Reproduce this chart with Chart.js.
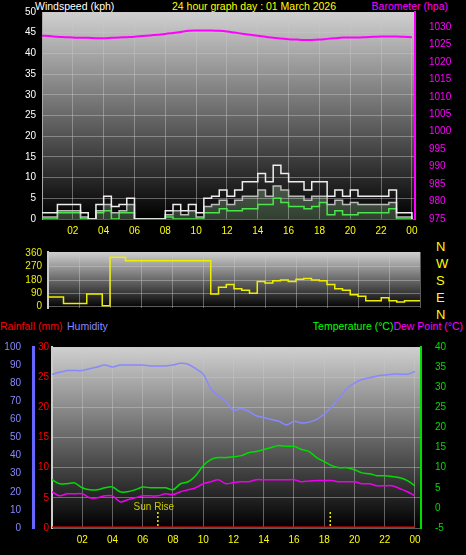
<!DOCTYPE html>
<html><head><meta charset="utf-8">
<script src="https://cdn.jsdelivr.net/npm/chart.js@4"></script>
<style>
body{margin:0;background:#000;width:466px;height:555px;overflow:hidden;position:relative;font-family:"Liberation Sans",Arial,sans-serif}
canvas{position:absolute;left:0}
.t{position:absolute;font-size:10.5px;white-space:nowrap;line-height:12px}
</style></head><body>
<div class="t" style="left:35px;top:0;color:#fff">Windspeed (kph)</div>
<div class="t" style="left:172px;top:0;color:#ff0">24 hour graph day : 01 March 2026</div>
<div class="t" style="right:18px;top:0;color:#f0f">Barometer (hpa)</div>
<div class="t" style="left:436px;top:238px;color:#ff0;font-size:13px;line-height:17px">N<br>W<br>S<br>E<br>N</div>
<div class="t" style="left:0;top:320px;color:#f00">Rainfall (mm)</div>
<div class="t" style="left:67px;top:320px;color:#88f">Humidity</div>
<div class="t" style="right:3px;top:320px"><span style="color:#0f0">Temperature (°C)</span><span style="color:#f0f">Dew Point (°C)</span></div>
<canvas id="c1" style="top:0" width="466" height="240"></canvas>
<canvas id="c2" style="top:240px" width="466" height="80"></canvas>
<canvas id="c3" style="top:335px" width="466" height="220"></canvas>
<script>
const hours=[0,0.5,1,1.5,2,2.5,3,3.5,4,4.5,5,5.5,6,6.5,7,7.5,8,8.5,9,9.5,10,10.5,11,11.5,12,12.5,13,13.5,14,14.5,15,15.5,16,16.5,17,17.5,18,18.5,19,19.5,20,20.5,21,21.5,22,22.5,23,23.5,24];
const hourLabels=['02','04','06','08','10','12','14','16','18','20','22','00'];
const barometer=[1027.5,1027.4,1027.2,1027.1,1027,1026.9,1026.9,1026.8,1026.8,1026.9,1027,1027.1,1027.2,1027.4,1027.6,1027.8,1028,1028.3,1028.6,1028.9,1029,1029,1029,1028.9,1028.7,1028.4,1028.1,1027.8,1027.5,1027.2,1026.9,1026.7,1026.5,1026.4,1026.3,1026.3,1026.4,1026.6,1026.8,1027,1027,1027,1027.1,1027.2,1027.3,1027.3,1027.3,1027.2,1027.1];
const windGust=[1.5,1.5,3.5,3.5,3.5,1.5,0,3.5,5.5,3,3.5,5,0,0,0,0,2,3.5,2,3.5,1.5,5,5.5,7,5.5,7,9,9,11,9,13,11,9,9,7,9,9,5.5,7,5.5,7,5.5,5.5,5.5,5.5,7,1.5,1.5,0];
const windSpeed=[0.5,0.5,2,2,2,0.5,0,2,3.5,1.5,2,3.5,0,0,0,0,1,2,1,2,0.5,3,3.5,4.5,3.5,4.5,5.5,5.5,7,5.5,8,7,5.5,5.5,4.5,5.5,5.5,3.5,4.5,3.5,4,3.5,3.5,3.5,3.5,4,0.5,0.5,0];
const windAvg=[0,0,1.5,1.5,1.5,0,0,1.5,2,0,1.5,1.5,0,0,0,0,0.5,0,0,0,0,1.5,1.5,2.5,2,2,2.5,2.5,3.5,3.5,5,4,3,3,2.5,3,4,1,2,1,1,1.5,1.5,1.5,1.5,2.5,0,0,0];
const baroTicks=[975,980,985,990,995,1000,1005,1010,1015,1020,1025,1030];
const dirTicks=[0,90,180,270,360];
const windDir=[65,65,20,20,20,85,85,5,335,335,310,310,310,310,310,310,310,310,310,310,310,85,130,150,120,110,90,170,160,175,180,170,185,190,180,175,150,120,110,80,70,40,40,60,40,30,40,40,40];
const temperature=[7,6,6,6.2,5,4.5,4.5,5,5.2,4,4,4.5,5.2,5,5,5,4.5,6,6.5,8,10.5,12,12.5,12.5,12.7,13,13.7,14,14.5,15,15.5,15.3,15.3,14.5,14,12.5,11.5,10.5,10,10,9.5,8.7,8.5,8,8,7.8,7.5,6.8,5.5];
const dewPoint=[4,3,3.5,3.5,3.5,2.5,2.5,3,3,1.5,2,2.5,3,3,3,3.5,3.3,4,4.5,5,6,6.5,7,6,6.3,6.5,6.5,7,7,7,7,7,7,6.5,6.7,6.8,6.8,6.8,6.5,6.5,6.5,6,6,5.5,5.5,5.5,4.8,4,3];
const humidity=[85,86,87,87,87,88,89,90,89,90,90,90,90,89.5,89.5,89.5,90,91,90.5,88,85,77,73,70,65,66,64.5,62,61,60,59,57,59,58,58.5,60,63,67,72,77,80,82,83,84,84.5,85,85,85,86.5];
const rainfall=hours.map(()=>0);
const sunEvents=[{t:7.0,label:'Sun Rise'},{t:18.4,label:''}];

const pts=a=>a.map((v,i)=>({x:hours[i],y:v}));
const F={family:'Liberation Sans',size:10};
const bgPlugin={id:'bg',beforeDraw(c){const a=c.chartArea,x=c.ctx;const g=x.createLinearGradient(0,a.top,0,a.bottom);g.addColorStop(0,'#d0d0d0');g.addColorStop(1,'#000');x.save();x.fillStyle=g;x.fillRect(a.left,a.top,a.right-a.left,a.bottom-a.top);x.restore();}};
const grid={color:'rgba(200,200,200,0.45)',borderDash:[2,2],drawTicks:false};
const fixW=w=>s=>{s.width=w};
const fixH=h=>s=>{s.height=h};
function xAxis(display){return {type:'linear',min:0,max:24.2,display:display,grid:grid,border:{display:false},
 afterBuildTicks:s=>{s.ticks=hourLabels.map((l,i)=>({value:(i+1)*2}))},
 ticks:{color:'#ff0',font:F,padding:6,callback:(v)=>hourLabels[v/2-1]},afterFit:fixH(21)};}

new Chart(document.getElementById('c1'),{type:'line',plugins:[bgPlugin],
 data:{datasets:[
  {data:pts(barometer),yAxisID:'yb',borderColor:'#f0f',borderWidth:2,pointRadius:0,tension:0.4},
  {data:pts(windGust),yAxisID:'y',borderColor:'#eee',borderWidth:1.5,pointRadius:0,stepped:true},
  {data:pts(windSpeed),yAxisID:'y',borderColor:'#bbb',borderWidth:1.5,pointRadius:0,stepped:true,backgroundColor:'rgba(200,255,200,0.25)',fill:'origin'},
  {data:pts(windAvg),yAxisID:'y',borderColor:'#2d2',borderWidth:1.5,pointRadius:0,stepped:true}]},
 options:{animation:false,responsive:false,layout:{padding:{top:12}},plugins:{legend:{display:false},tooltip:{enabled:false}},
  scales:{x:xAxis(true),
   y:{position:'left',min:0,max:50,ticks:{stepSize:5,color:'#fff',font:F,padding:6},grid:grid,border:{color:'#aaa'},afterFit:fixW(42)},
   yb:{position:'right',min:975,max:1034.3,afterBuildTicks:s=>{s.ticks=baroTicks.map(v=>({value:v}))},ticks:{color:'#f0f',font:F,padding:6,callback:v=>String(v)},grid:{display:false},border:{color:'#f0f',width:2},afterFit:fixW(51)}}}});

new Chart(document.getElementById('c2'),{type:'line',plugins:[bgPlugin],
 data:{datasets:[{data:pts(windDir),borderColor:'#ee0',borderWidth:1.5,pointRadius:0,stepped:true}]},
 options:{animation:false,responsive:false,layout:{padding:{top:4,bottom:7}},plugins:{legend:{display:false},tooltip:{enabled:false}},
  scales:{x:{type:'linear',min:0,max:24,display:true,grid:grid,border:{display:false},afterBuildTicks:s=>{s.ticks=hourLabels.map((l,i)=>({value:(i+1)*2}))},ticks:{display:false},afterFit:fixH(0)},
   y:{min:-10,max:370,afterBuildTicks:s=>{s.ticks=dirTicks.map(v=>({value:v}))},ticks:{color:'#ee0',font:F,padding:6},grid:grid,border:{color:'#ccc',width:2},afterFit:fixW(48)},
   yr:{position:'right',display:true,ticks:{display:false},grid:{display:false},border:{display:false},afterFit:fixW(46)}}}});

const sunPlugin={id:'sun',afterDatasetsDraw(c){const x=c.ctx,sx=c.scales.x,sy=c.scales.yr;
 sunEvents.forEach(e=>{const px=sx.getPixelForValue(e.t);const top=sy.getPixelForValue(0)-16;x.save();x.strokeStyle='#ee0';x.setLineDash([2,2]);x.lineWidth=1.5;x.beginPath();x.moveTo(px,top);x.lineTo(px,sy.getPixelForValue(0));x.stroke();
 if(e.label){x.fillStyle='#cc0';x.font='10px Liberation Sans';x.textAlign='center';x.fillText(e.label,px-4,top-2);}x.restore();});}};

new Chart(document.getElementById('c3'),{type:'line',plugins:[bgPlugin,sunPlugin],
 data:{datasets:[
  {data:pts(humidity),yAxisID:'yh',borderColor:'#88f',borderWidth:1.5,pointRadius:0,tension:0.3},
  {data:pts(temperature),yAxisID:'yt',borderColor:'#0d0',borderWidth:1.5,pointRadius:0,tension:0.3},
  {data:pts(dewPoint),yAxisID:'yt',borderColor:'#e0e',borderWidth:1.5,pointRadius:0,tension:0.3},
  {data:pts(rainfall),yAxisID:'yr',borderColor:'#f00',borderWidth:3,pointRadius:0}]},
 options:{animation:false,responsive:false,layout:{padding:{top:6}},plugins:{legend:{display:false},tooltip:{enabled:false}},
  scales:{x:Object.assign(xAxis(true),{min:0,max:24.4,afterFit:fixH(27)}),
   yh:{position:'left',weight:2,min:0,max:100,ticks:{stepSize:10,color:'#88f',font:F,padding:4},grid:{display:false},border:{color:'#66f',width:3},afterFit:fixW(33)},
   yr:{position:'left',weight:1,min:0,max:30,ticks:{stepSize:5,color:'#f00',font:F,padding:3},grid:grid,border:{color:'#ccc',width:2},afterFit:fixW(19)},
   yt:{position:'right',min:-5,max:40,ticks:{stepSize:5,color:'#0d0',font:F,padding:6},grid:{display:false},border:{color:'#0d0',width:2},afterFit:fixW(45)}}}});
</script></body></html>
